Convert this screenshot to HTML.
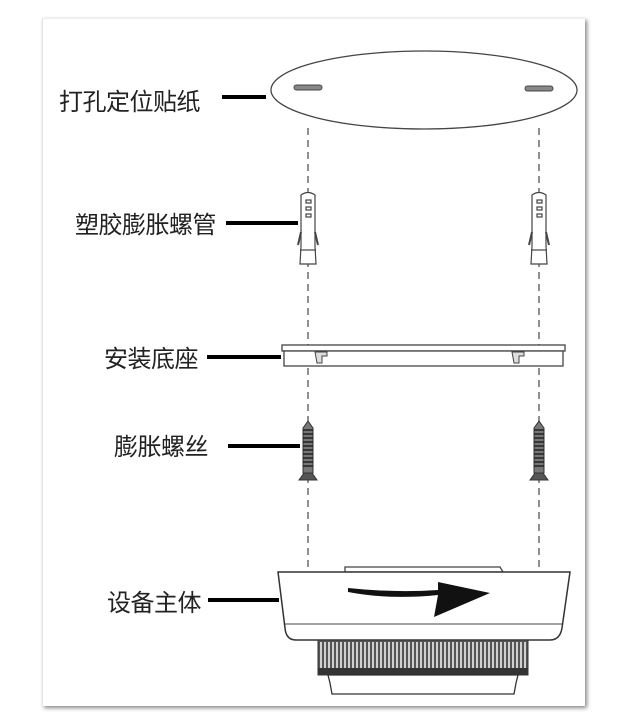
<!DOCTYPE html>
<html><head><meta charset="utf-8"><style>
html,body{margin:0;padding:0;background:#fff;width:636px;height:722px;overflow:hidden}
.f{position:absolute;left:42px;top:18px;width:542px;height:687px;background:#fff;box-shadow:2px 2px 4px #888;border-left:1px solid #e4e4e4;border-top:1px solid #eee}
.t{position:absolute;font-family:"Liberation Sans","Noto Sans CJK SC",sans-serif;font-size:24px;color:#222;white-space:nowrap;letter-spacing:-0.5px}
svg{position:absolute;left:0;top:0}
</style></head><body>
<div class="f"></div>
<div class="t" style="left:59px;top:82px">打孔定位贴纸</div>
<div class="t" style="left:75px;top:205px">塑胶膨胀螺管</div>
<div class="t" style="left:104px;top:339px">安装底座</div>
<div class="t" style="left:114px;top:427px">膨胀螺丝</div>
<div class="t" style="left:107px;top:583px">设备主体</div>
<svg width="636" height="722" viewBox="0 0 636 722">
<g stroke="#000" stroke-width="4">
<line x1="222" y1="97" x2="266" y2="97"/>
<line x1="226" y1="223" x2="298" y2="223"/>
<line x1="207" y1="357" x2="281" y2="357"/>
<line x1="228" y1="446" x2="300" y2="446"/>
<line x1="208" y1="600" x2="279" y2="600"/>
</g>
<g stroke="#555" stroke-width="1.3" stroke-dasharray="7,5" fill="none">
<line x1="308" y1="128" x2="308" y2="570"/>
<line x1="539" y1="128" x2="539" y2="570"/>
</g>
<ellipse cx="424" cy="90" rx="153" ry="39" fill="#fff" stroke="#444" stroke-width="1.3"/>
<rect x="294" y="85" width="28" height="5" rx="2.5" fill="#888" stroke="#444"/>
<rect x="525" y="86" width="28" height="5" rx="2.5" fill="#888" stroke="#444"/>
<g id="anc" fill="#fff" stroke="#444" stroke-width="1.2">
<path d="M301 195 Q308 190 315 195 L315 246 L316 264 L300 264 L301 246 Z"/>
<rect x="306" y="200" width="5" height="3"/><rect x="306" y="207" width="5" height="3"/><rect x="306" y="214" width="5" height="3"/>
<path d="M301 232 L298 245 M315 232 L318 245" stroke-width="2"/>
<line x1="300" y1="250" x2="316" y2="250"/>
</g>
<use href="#anc" x="231"/>
<rect x="282" y="345" width="283" height="6" fill="#fff" stroke="#444" stroke-width="1.3"/>
<rect x="284" y="351" width="279" height="15" fill="#fff" stroke="#444" stroke-width="1.3"/>
<path d="M315 352 h12 v4 h-5 v7 h-5z M512 352 h12 v4 h-5 v7 h-5z" fill="#ddd" stroke="#444"/>
<g id="scr">
<path d="M308 421 L313 428 L313 473 L303 473 L303 428 Z" fill="#777" stroke="#333"/>
<path d="M303 430 h10 M303 434 h10 M303 438 h10 M303 442 h10 M303 446 h10 M303 450 h10 M303 454 h10 M303 458 h10 M303 462 h10 M303 466 h10" stroke="#222" stroke-width="1.5"/>
<path d="M304 473 L299 480 L317 480 L312 473Z" fill="#555" stroke="#333"/>
</g>
<use href="#scr" x="231"/>
<path d="M345 567 L500 567 L503 572 L345 572 Z" fill="#fff" stroke="#444" stroke-width="1.3"/>
<path d="M278 572 L570 572 L562 628 Q560 640 550 640 L296 640 Q286 640 285 628 Z" fill="#fff" stroke="#333" stroke-width="1.5"/>
<line x1="285" y1="624" x2="562" y2="624" stroke="#444"/>
<path d="M348 592 Q390 600 438 595 L434 617 L490 593 L438 582 L438 590 Q395 593 348 588 Z" fill="#111"/>
<rect x="318" y="640" width="210" height="35" fill="#555" stroke="#333"/>
<g stroke="#eee" stroke-width="1.6">
<path d="M321 642v26M325 642v26M329 642v26M333 642v26M337 642v26M341 642v26M345 642v26M349 642v26M353 642v26M357 642v26M361 642v26M365 642v26M369 642v26M373 642v26M377 642v26M381 642v26M385 642v26M389 642v26M393 642v26M397 642v26M401 642v26M405 642v26M409 642v26M413 642v26M417 642v26M421 642v26M425 642v26M429 642v26M433 642v26M437 642v26M441 642v26M445 642v26M449 642v26M453 642v26M457 642v26M461 642v26M465 642v26M469 642v26M473 642v26M477 642v26M481 642v26M485 642v26M489 642v26M493 642v26M497 642v26M501 642v26M505 642v26M509 642v26M513 642v26M517 642v26M521 642v26M525 642v26"/>
</g>
<rect x="318" y="668" width="210" height="7" fill="#333"/>
<path d="M328 675 L518 675 L516 683 L514 694 L332 694 L330 683 Z" fill="#fff" stroke="#333" stroke-width="1.3"/>
</svg>
</body></html>
